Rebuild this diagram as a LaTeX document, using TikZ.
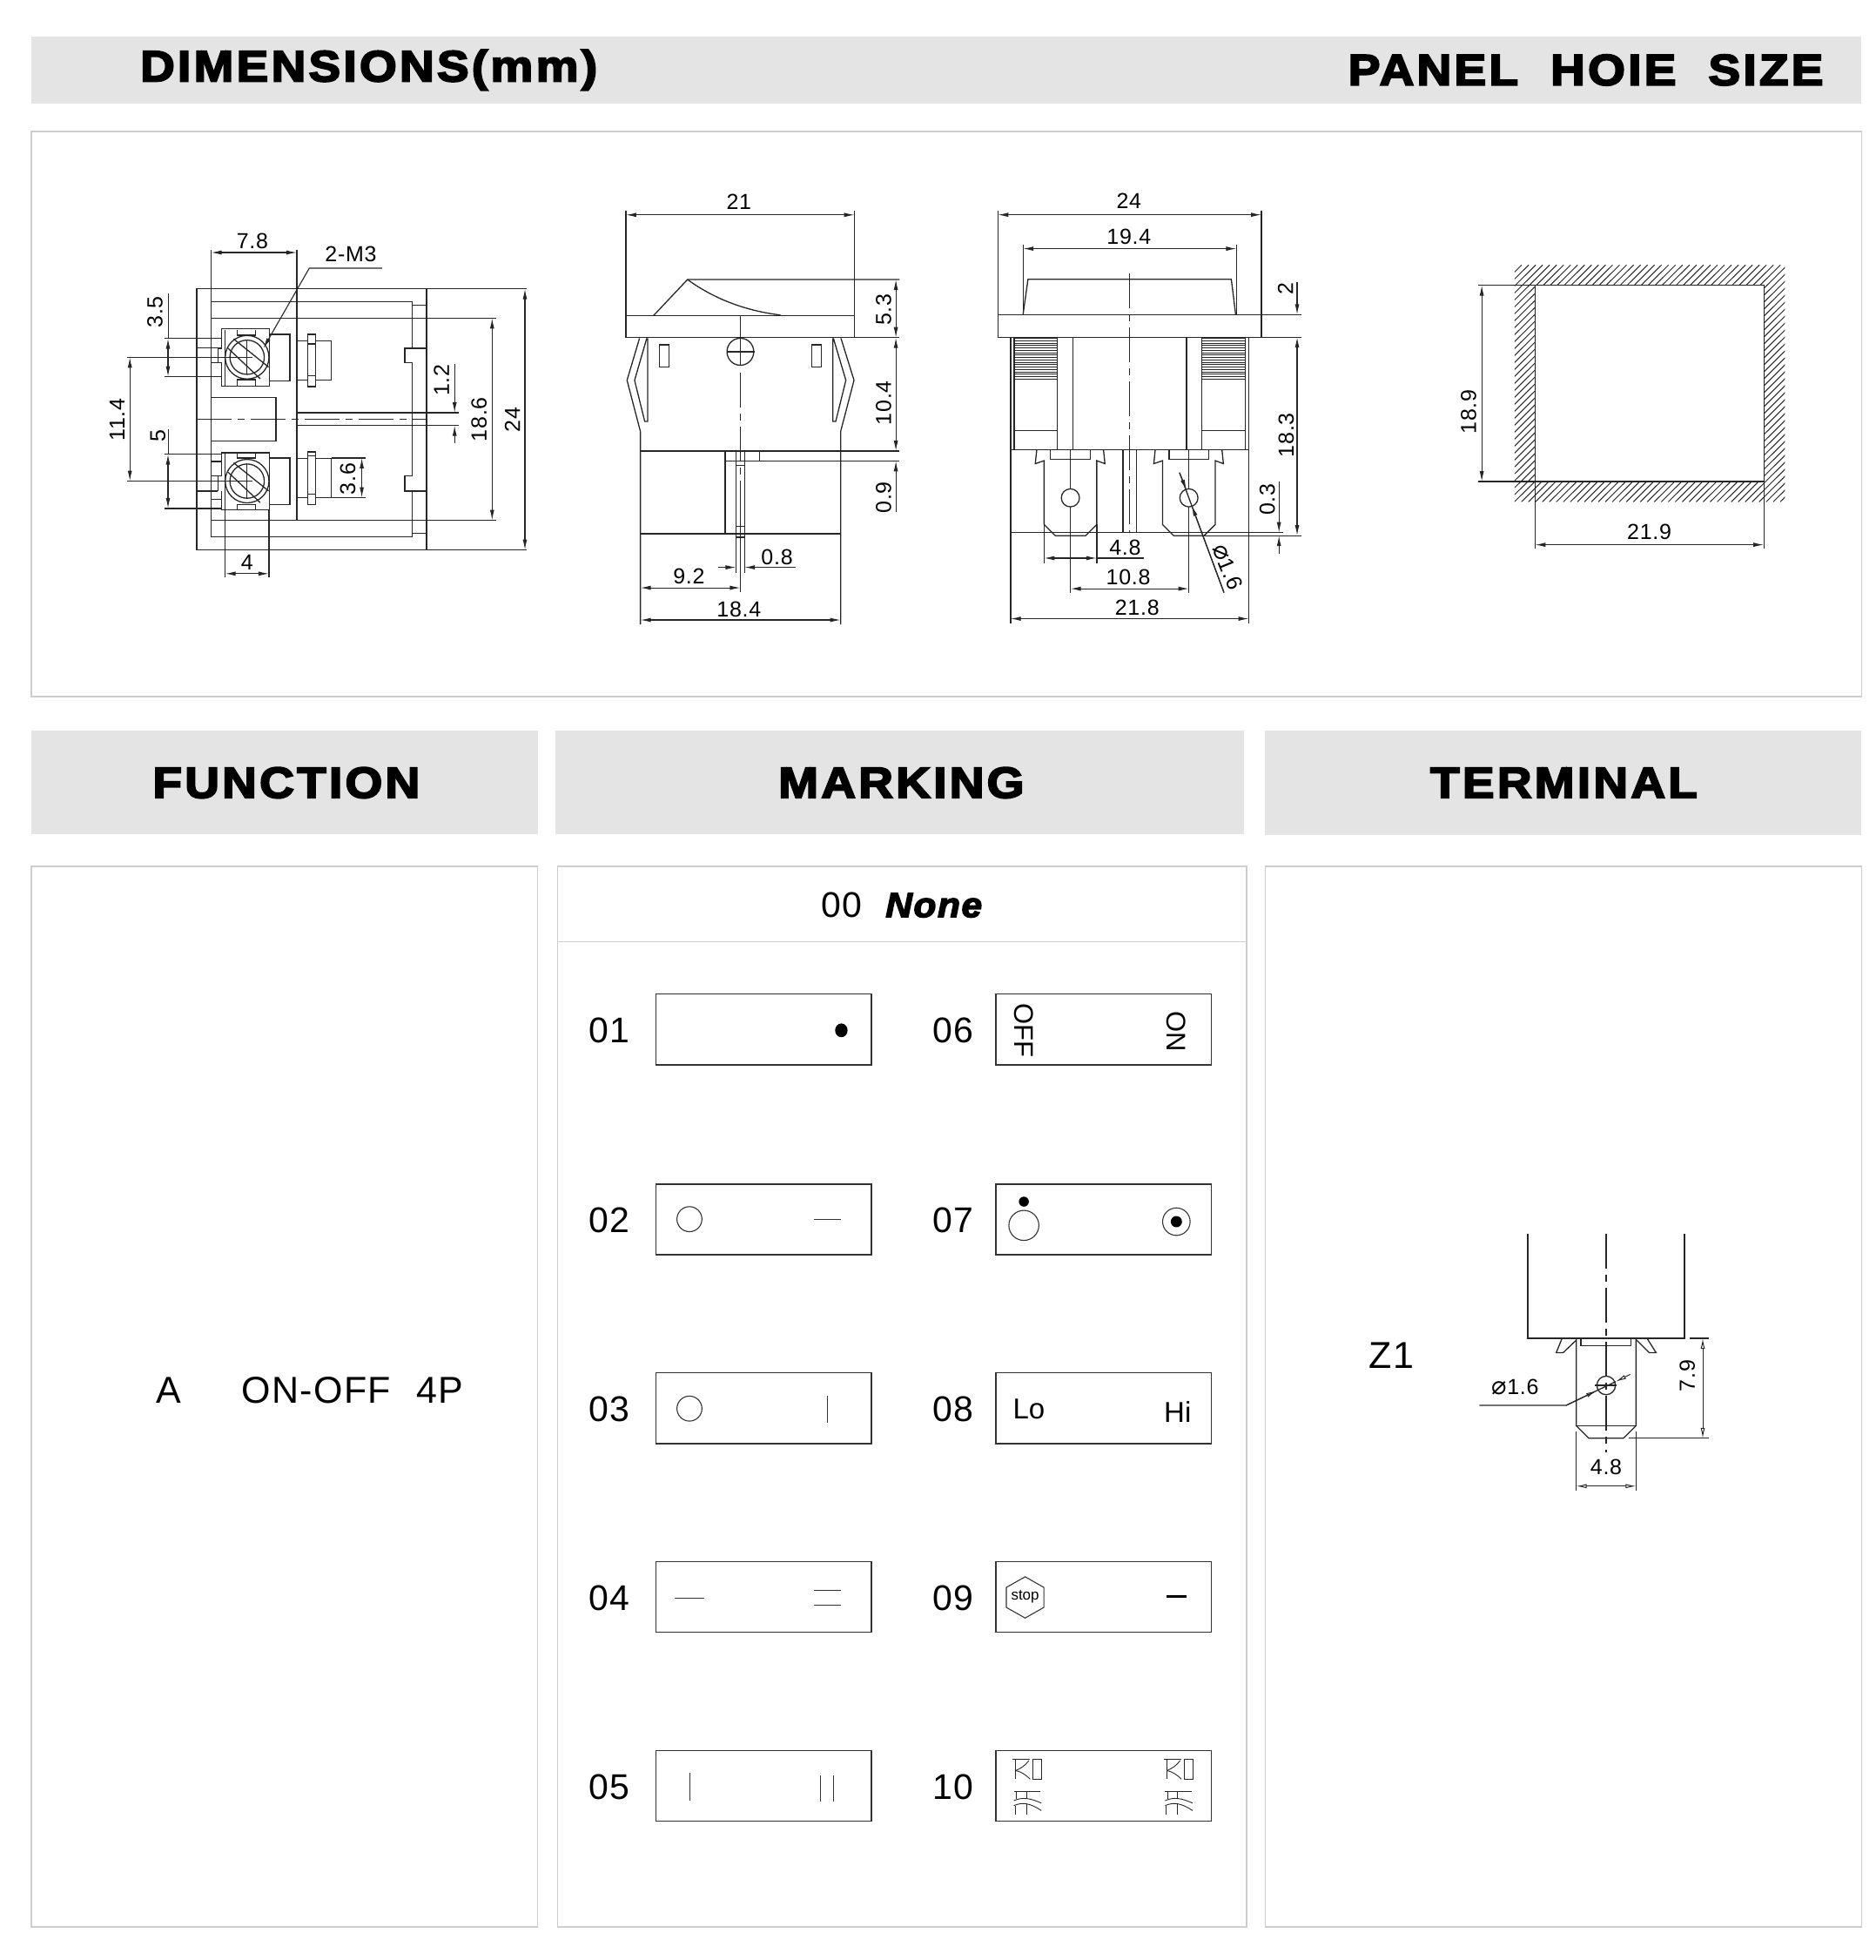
\documentclass[tikz,border=0pt]{standalone}
\usepackage{fontspec}
\setmainfont{Liberation Sans}
\newfontfamily\headfont[FakeBold=4,FakeStretch=1.1,LetterSpace=6.5]{Liberation Sans Bold}
\newfontfamily\nonefont[FakeBold=3.5,FakeStretch=1.06,LetterSpace=4]{Liberation Sans Bold Italic}
\newfontfamily\symfont{DejaVu Sans}
\usetikzlibrary{arrows.meta,shapes.geometric}
\definecolor{bandgray}{HTML}{E4E4E4}
\definecolor{panelgray}{HTML}{CDCDCD}
\newcommand{\dia}{{\symfont\fontsize{29}{29}\selectfont ⌀}}
\tikzset{
  part/.style={line width=1.3pt,black!85},
  thinpart/.style={line width=.9pt,black!85},
  dimline/.style={line width=1.1pt,black!85,{Latex[length=12pt,width=5pt]}-{Latex[length=12pt,width=5pt]}},
  dimend/.style={line width=1.1pt,black!85,-{Latex[length=12pt,width=5pt]}},
  opendim/.style={line width=1pt,black!85,{Latex[open,length=12pt,width=5pt]}-{Latex[open,length=12pt,width=5pt]}},
  openend/.style={line width=1pt,black!85,-{Latex[open,length=12pt,width=5pt]}},
  cline/.style={line width=1.1pt,black!85,dash pattern=on 40pt off 7pt on 8pt off 7pt},
  dimtext/.style={inner sep=0pt,font=\fontsize{25}{25}\selectfont\addfontfeature{LetterSpace=3}},
  band/.style={fill=bandgray,draw=none},
  panel/.style={draw=panelgray,line width=1.5pt},
  headtext/.style={inner sep=0pt,font=\fontsize{50}{50}\headfont},
  marktext/.style={inner sep=0pt,font=\fontsize{41}{41}\selectfont\addfontfeature{LetterSpace=3}},
  functext/.style={inner sep=0pt,font=\fontsize{43}{43}\selectfont\addfontfeature{LetterSpace=3}},
  markline/.style={line width=1.4pt,black!80},
  marksign/.style={line width=1.1pt,black!80},
}
% screw head of the left view, #1 = x, #2 = y of its centre
\newcommand{\screwhead}[2]{
  \draw[part] (#1,#2) ellipse [x radius=70,y radius=75];
  \draw[part] (#1,#2) ellipse [x radius=55,y radius=59];
  \draw[part] (#1-43,#2-63) -- (#1+69,#2+34);
  \draw[part] (#1-61,#2-31) -- (#1+42,#2+74);
  \draw[thinpart] (#1,#2-61) -- (#1,#2+59);
}
\begin{document}
\begin{tikzpicture}[x=1.436pt,y=-1.436pt]
\useasboundingbox (0,0) rectangle (1500,1567.5);

% bands and panels
\fill[band] (25,29) rectangle (1489,83);
\fill[band] (25,584) rectangle (430,667);
\fill[band] (444,584) rectangle (995,667);
\fill[band] (1012,584) rectangle (1489,668);
\draw[panel] (25,105) rectangle (1489,557);
\draw[panel] (25,693) rectangle (430,1541);
\draw[panel] (446,693) rectangle (997,1541);
\draw[panel] (1012,693) rectangle (1489,1541);
\draw[panel] (446,753) -- (997,753);
\node[headtext] (dimhead) at (295,56) {DIMENSIONS(mm)};
\node[headtext] (holehead) at (1268.5,56) {PANEL\ \ HOIE\ \ SIZE};
\node[headtext] (funchead) at (229,626) {FUNCTION};
\node[headtext] (markhead) at (721,626) {MARKING};
\node[headtext] (termhead) at (1251,626) {TERMINAL};

% left view
\begin{scope}[shift={(69.4,160.2)},xscale=.25,yscale=.232]
  \draw[part] (352,305) rectangle (1087,1205);
  \draw[part] (1087,305) -- (1408,305);
  \draw[part] (1087,1205) -- (1408,1205);
  \draw[part] (398,170) -- (398,1160) -- (1042,1160) -- (1042,1002);
  \draw[part] (398,350) -- (1042,350) -- (1042,510) -- (1018,510) -- (1018,560) -- (1042,560) -- (1042,950) -- (1018,950) -- (1018,1002) -- (1087,1002);
  \draw[part] (1042,510) -- (1087,510);
  \draw[part] (1042,362) -- (1087,362);
  \draw[part] (1042,1148) -- (1087,1148);
  \draw[part] (398,406) -- (1310,406);
  \draw[part] (398,1103) -- (1310,1103);
  \draw[part] (672,170) -- (672,1103);
  \draw[part] (398,680) -- (605,680) -- (605,830) -- (398,830);
  \draw[cline] (352,755) -- (1087,755);
  \draw[part] (672,732) -- (1190,732);
  \draw[part] (672,776) -- (1190,776);

  % upper terminal
  \draw[part] (432,510) -- (432,443) -- (585,443) -- (585,640) -- (432,640) -- (432,560) -- (398,560);
  \draw[part] (432,510) -- (420,510) -- (420,560);
  \draw[part] (443,447) -- (443,640);
  \draw[part] (482,447) -- (482,465) -- (540,465) -- (540,447);
  \draw[part] (482,640) -- (482,618) -- (540,618) -- (540,640);
  \draw[part] (585,462) -- (650,462) -- (650,622) -- (585,622);
  \screwhead{513}{541}
  \draw[part] (248,476) -- (432,476);
  \draw[part] (352,508) -- (420,508);
  \draw[part] (248,608) -- (432,608);
  \draw[part] (128,541) -- (530,541);
  \draw[part] (672,485) -- (783,485) -- (783,620) -- (672,620);
  \draw[part,fill=white] (707,462) rectangle (733,642);
  \draw[part] (707,495) -- (733,495);
  \draw[part] (707,605) -- (733,605);

  % lower terminal
  \draw[part] (432,950) -- (432,870) -- (585,870) -- (585,1066) -- (432,1066) -- (432,1002);
  \draw[part] (398,900) -- (432,900);
  \draw[part] (398,950) -- (432,950);
  \draw[part] (420,950) -- (420,1002);
  \draw[part] (352,1002) -- (420,1002) ;
  \draw[part] (398,1030) -- (432,1030);
  \draw[part] (482,870) -- (482,888) -- (540,888) -- (540,870);
  \draw[part] (482,1066) -- (482,1048) -- (540,1048) -- (540,1066);
  \draw[part] (585,888) -- (650,888) -- (650,1048) -- (585,1048);
  \screwhead{513}{968}
  \draw[part] (248,875) -- (432,875);
  \draw[part] (248,1062) -- (432,1062);
  \draw[part] (128,968) -- (530,968);
  \draw[part] (672,890) -- (783,890) -- (783,1025) -- (672,1025);
  \draw[part,fill=white] (707,867) rectangle (733,1048);
  \draw[part] (707,880) -- (733,880);
  \draw[part] (707,1012) -- (733,1012);
  \draw[part] (443,870) -- (443,1300);
  \draw[part] (583,1066) -- (583,1300);

  % dimensions
  \draw[dimline] (398,180) -- (672,180);
  \node[dimtext] (lw78) at (530,140) {7.8};
  \draw[dimline] (1402,305) -- (1402,1205);
  \node[dimtext,rotate=90] (lw24) at (1362,757) {24};
  \draw[dimline] (1297,406) -- (1297,1103);
  \node[dimtext,rotate=90] (lw186) at (1255,755) {18.6};
  \draw[dimend] (1177,565) -- (1177,732);
  \draw[dimend] (1177,836) -- (1177,776);
  \node[dimtext,rotate=90] (lw12) at (1135,620) {1.2};
  \draw[dimline] (880,888) -- (880,1025);
  \draw[part] (783,888) -- (893,888);
  \draw[part] (783,1025) -- (893,1025);
  \node[dimtext,rotate=90] (lw36) at (835,960) {3.6};
  \draw[dimline] (443,1287) -- (583,1287);
  \node[dimtext] (lw4) at (513,1248) {4};
  \draw[dimline] (138,541) -- (138,968);
  \node[dimtext,rotate=90] (lw114) at (97,757) {11.4};
  \draw[dimline] (260,476) -- (260,608);
  \draw[part] (262,322) -- (262,476);
  \node[dimtext,rotate=90] (lw35) at (218,385) {3.5};
  \draw[dimline] (260,875) -- (260,1062);
  \draw[part] (262,790) -- (262,875);
  \node[dimtext,rotate=90] (lw5) at (228,812) {5};
  \draw[dimend] (945,234) -- (712,234) -- (565,510);
  \node[dimtext] (lwm3) at (845,187) {2-M3};
\end{scope}

% middle view
\begin{scope}[shift={(473.2,139.4)},xscale=.2325,yscale=.2405]
  \draw[part] (118,470) rectangle (905,543);
  \draw[part] (118,122) -- (118,470);
  \draw[part] (905,122) -- (905,470);
  \draw[part] (213,470) -- (330,350) -- (1060,350);
  \draw[part] (330,350) .. controls (430,420) and (540,455) .. (650,468);
  \draw[part] (905,543) -- (1060,543);
  \draw[part] (168,920) -- (1060,920);
  \draw[part] (460,953) -- (1060,953);
  \draw[part] (512,470) -- (512,635);
  \draw[part] (512,590) ellipse [x radius=46,y radius=45];
  \draw[part] (465,590) -- (560,590);
  \draw[cline] (512,660) -- (512,1120);
  \draw[part] (512,1120) -- (512,1390);
  \draw[part] (233,567) rectangle (266,640);
  \draw[part] (758,567) rectangle (790,640);
  % snap hooks
  \draw[part] (165,545) -- (122,685) -- (168,855) -- (168,1497);
  \draw[part] (190,545) -- (148,685) -- (183,822) -- (193,822) -- (193,545);
  \draw[part] (858,545) -- (903,685) -- (857,855) -- (857,1497);
  \draw[part] (832,545) -- (875,685) -- (840,822) -- (830,822) -- (830,545);
  \draw[part] (168,1195) -- (857,1195);
  \draw[part] (460,920) -- (460,1195);
  \draw[part] (578,920) -- (578,953);
  \draw[part] (497,920) -- (497,1325);
  \draw[part] (526,920) -- (526,1325);
  \draw[part] (497,968) -- (526,968);
  \draw[part] (497,1170) -- (526,1170);
  \draw[part] (497,1207) -- (526,1207);
  % dimensions
  \draw[dimline] (118,135) -- (905,135);
  \node[dimtext] (mv21) at (507,92) {21};
  \draw[dimline] (1047,350) -- (1047,543);
  \node[dimtext,rotate=90] (mv53) at (1005,450) {5.3};
  \draw[dimline] (1047,543) -- (1047,920);
  \node[dimtext,rotate=90] (mv104) at (1005,760) {10.4};
  \draw[dimend] (1047,1122) -- (1047,953);
  \node[dimtext,rotate=90] (mv09) at (1005,1075) {0.9};
  \draw[dimend] (437,1307) -- (497,1307);
  \draw[dimend] (703,1307) -- (526,1307);
  \node[dimtext] (mv08) at (638,1272) {0.8};
  \draw[dimline] (168,1375) -- (512,1375);
  \node[dimtext] (mv92) at (335,1337) {9.2};
  \draw[dimline] (168,1482) -- (857,1482);
  \node[dimtext] (mv184) at (507,1447) {18.4};
\end{scope}

% right view
\begin{scope}[shift={(772,139.4)},xscale=.234,yscale=.2398]
  \draw[part] (112,468) rectangle (1013,543);
  \draw[part] (112,122) -- (112,468);
  \draw[part] (1013,122) -- (1013,468);
  \draw[part] (198,235) -- (198,468);
  \draw[part] (928,235) -- (928,468);
  \draw[part] (198,468) -- (215,350) -- (910,350) -- (925,468);
  \draw[part] (1013,468) -- (1150,468);
  \draw[part] (1013,543) -- (1150,543);
  \draw[cline] (563,330) -- (563,1195);
  % housing
  \draw[part,line width=1.8pt] (155,543) -- (155,1497);
  \draw[part,line width=1.8pt] (970,543) -- (970,1497);
  \draw[part] (168,543) -- (168,918);
  \draw[part] (958,543) -- (958,918);
  \foreach \ribrow in {547,555,...,683}{
    \draw[thinpart] (170,\ribrow) -- (316,\ribrow);
    \draw[thinpart] (810,\ribrow) -- (955,\ribrow);
  }
  \draw[part] (316,543) -- (316,918);
  \draw[part] (368,543) -- (368,918);
  \draw[part] (757,543) -- (757,918);
  \draw[part] (808,543) -- (808,918);
  \draw[part] (170,855) -- (316,855);
  \draw[part] (810,855) -- (955,855);
  \draw[part] (155,918) -- (970,918);
  \draw[part] (155,1195) -- (1088,1195);
  \draw[part] (540,918) -- (540,1195);
  \draw[part] (585,918) -- (585,1195);
  % blades
  \foreach \bladex in {0,405}{
    \begin{scope}[shift={(\bladex,0)}]
      \draw[part] (245,918) -- (240,965) -- (270,955) -- (270,1168) -- (308,1205) -- (412,1205) -- (450,1168) -- (450,955) -- (478,965) -- (473,918);
      \draw[part] (292,918) -- (292,950) -- (428,950) -- (428,918);
      \draw[part] (360,918) -- (360,1048);
      \draw[part] (360,1110) -- (360,1395);
      \draw[part] (360,1079) ellipse [x radius=31,y radius=30];
    \end{scope}
  }
  \draw[part] (812,1205) -- (1150,1205);
  % dimensions
  \draw[dimline] (112,135) -- (1013,135);
  \node[dimtext] (rv24) at (560,90) {24};
  \draw[dimline] (198,248) -- (928,248);
  \node[dimtext] (rv194) at (560,208) {19.4};
  \draw[dimend] (1135,360) -- (1135,468);
  \node[dimtext,rotate=90] (rv2) at (1095,380) {2};
  \draw[dimline] (1135,543) -- (1135,1205);
  \node[dimtext,rotate=90] (rv183) at (1098,870) {18.3};
  \draw[dimend] (1073,1025) -- (1073,1195);
  \draw[dimend] (1073,1265) -- (1073,1205);
  \node[dimtext,rotate=90] (rv03) at (1033,1085) {0.3};
  \draw[part] (270,1168) -- (270,1297);
  \draw[part] (450,1168) -- (450,1297);
  \draw[dimline] (270,1280) -- (450,1280);
  \draw[part] (450,1280) -- (610,1280);
  \node[dimtext] (rv48) at (547,1246) {4.8};
  \draw[dimline] (360,1382) -- (765,1382);
  \node[dimtext] (rv108) at (558,1343) {10.8};
  \draw[dimline] (155,1482) -- (970,1482);
  \node[dimtext] (rv218) at (588,1445) {21.8};
  \draw[part] (733,995) -- (885,1395);
  \draw[dimend] (733,995) -- (757,1053);
  \draw[dimend] (885,1395) -- (775,1105);
  \node[dimtext,rotate=-68] (rvphi) at (897,1310) {\dia 1.6};
\end{scope}

% panel hole
\begin{scope}[shift={(1141,188)},xscale=.2331,yscale=.2319]
  \begin{scope}
    \clip (303,103) rectangle (1230,920);
    \foreach \hatchx in {303,327,...,2050}{
      \draw[line width=1pt,black!85] (\hatchx-817,920) -- (\hatchx,103);
    }
    \fill[white] (373,173) rectangle (1158,850);
  \end{scope}
  \draw[part] (373,173) rectangle (1158,850);
  \draw[part] (178,173) -- (373,173);
  \draw[part] (178,850) -- (373,850);
  \draw[part] (373,850) -- (373,1080);
  \draw[part] (1158,850) -- (1158,1080);
  \draw[dimline] (190,173) -- (190,850);
  \node[dimtext,rotate=90] (ph189) at (145,610) {18.9};
  \draw[dimline] (373,1068) -- (1158,1068);
  \node[dimtext] (ph219) at (765,1025) {21.9};
\end{scope}

% function
\node[functext] (funcA) at (135,1112) {A};
\node[functext] (funcon) at (253,1112) {ON-OFF};
\node[functext] (func4p) at (352,1112) {4P};

% marking
\node[marktext] (mk00) at (673,724) {00};
\node[inner sep=0pt,font=\fontsize{40}{40}\nonefont] (mknone) at (747,724) {None};
\foreach \mleft/\mright/\mtop in {01/06/795,02/07/947,03/08/1098,04/09/1249,05/10/1400}{
  \node[marktext] (mk\mleft) at (487.5,\mtop+29) {\mleft};
  \node[marktext] (mk\mright) at (762.5,\mtop+29) {\mright};
  \draw[markline] (524.5,\mtop) rectangle ++(172.5,56.5);
  \draw[markline] (796.5,\mtop) rectangle ++(172.5,56.5);
}
% 01
\fill[black] (673,824) ellipse [x radius=5,y radius=5.5];
% 02
\draw[marksign] (551.5,975) circle (10);
\draw[marksign] (651,975) -- (673,975);
% 03
\draw[marksign] (551.5,1126.5) circle (10);
\draw[marksign] (662,1116) -- (662,1138);
% 04
\draw[marksign] (540,1278) -- (563,1278);
\draw[marksign] (651,1272) -- (673,1272);
\draw[marksign] (651,1284) -- (673,1284);
% 05
\draw[marksign] (552,1418) -- (552,1440);
\draw[marksign] (656,1420) -- (656,1441);
\draw[marksign] (667,1420) -- (667,1441);
% 06
\node[inner sep=0pt,rotate=-90,font=\fontsize{31}{31}\selectfont] (mkoff) at (819,824) {OFF};
\node[inner sep=0pt,rotate=-90,font=\fontsize{31}{31}\selectfont] (mkon) at (941,825) {ON};
% 07
\fill[black] (819,961) circle (4);
\draw[marksign] (819,980) circle (12);
\draw[marksign] (941,977) circle (11);
\fill[black] (941,977) circle (4.5);
% 08
\node[inner sep=0pt,font=\fontsize{33}{33}\selectfont] (mklo) at (823,1127) {Lo};
\node[inner sep=0pt,font=\fontsize{33}{33}\selectfont] (mkhi) at (942,1129) {Hi};
% 09
\draw[marksign] (820,1261) -- (835,1269.5) -- (835,1285.5) -- (820,1294) -- (805,1285.5) -- (805,1269.5) -- cycle;
\node[inner sep=0pt,font=\fontsize{17}{17}\selectfont] (mkstop) at (820,1277) {stop};
\draw[line width=3.2pt] (933,1277) -- (949,1277);
% 10
\foreach \glyphx in {810,931}{
  \begin{scope}[shift={(\glyphx,1407)}]
    \draw[thinpart] (0,0) -- (14,0);
    \draw[thinpart] (2.5,0) -- (2.5,15.8);
    \draw[thinpart] (2.5,9) .. controls (7,7) and (10,5) .. (13,1);
    \draw[thinpart] (2.5,9) .. controls (7,10) and (10,12) .. (14,15.8);
    \draw[thinpart] (16.2,0) rectangle (23.2,15.8);
    \draw[thinpart] (1,26) -- (22,26);
    \draw[thinpart] (3,26) -- (3,32);
    \draw[thinpart] (11,26) -- (11,32);
    \draw[thinpart] (1,33) .. controls (8,30) and (14,31) .. (23,35);
    \draw[thinpart] (1,37) .. controls (8,34) and (14,35) .. (23,41);
    \draw[thinpart] (2,37) -- (2,44);
    \draw[thinpart] (11,36) -- (11,44);
  \end{scope}
}

% terminal
\node[functext] (tmz1) at (1113,1084) {Z1};
\begin{scope}[shift={(1149,968)},xscale=.2321,yscale=.2321]
  \draw[part] (315,80) -- (315,441) -- (855,441) -- (855,80);
  \draw[cline] (585,80) -- (585,835);
  \draw[part] (482,441) -- (482,742) -- (525,785) -- (645,785) -- (688,742) -- (688,441);
  \draw[part] (482,742) -- (688,742);
  \draw[part] (498,441) -- (498,467) -- (670,467) -- (670,441);
  \draw[part] (433,441) -- (413,490) -- (437,490) -- (482,447);
  \draw[part] (726,441) -- (757,490) -- (733,490) -- (690,447);
  \draw[part] (585,603) circle (32);
  \draw[part] (547,603) -- (622,603);
  \draw[part] (148,672) -- (447,672) -- (555,620);
  \draw[part] (555,620) -- (618,590);
  \draw[openend] (447,672) -- (552,621);
  \draw[openend] (668,565) -- (618,590);
  \node[dimtext] (tm16) at (272,608) {\dia 1.6};
  \draw[part] (873,441) -- (938,441);
  \draw[part] (662,785) -- (938,785);
  \draw[opendim] (918,441) -- (918,785);
  \node[dimtext,rotate=90] (tm79) at (865,570) {7.9};
  \draw[part] (482,762) -- (482,967);
  \draw[part] (688,762) -- (688,967);
  \draw[opendim] (482,950) -- (688,950);
  \node[dimtext] (tm48) at (585,885) {4.8};
\end{scope}
\end{tikzpicture}
\end{document}
